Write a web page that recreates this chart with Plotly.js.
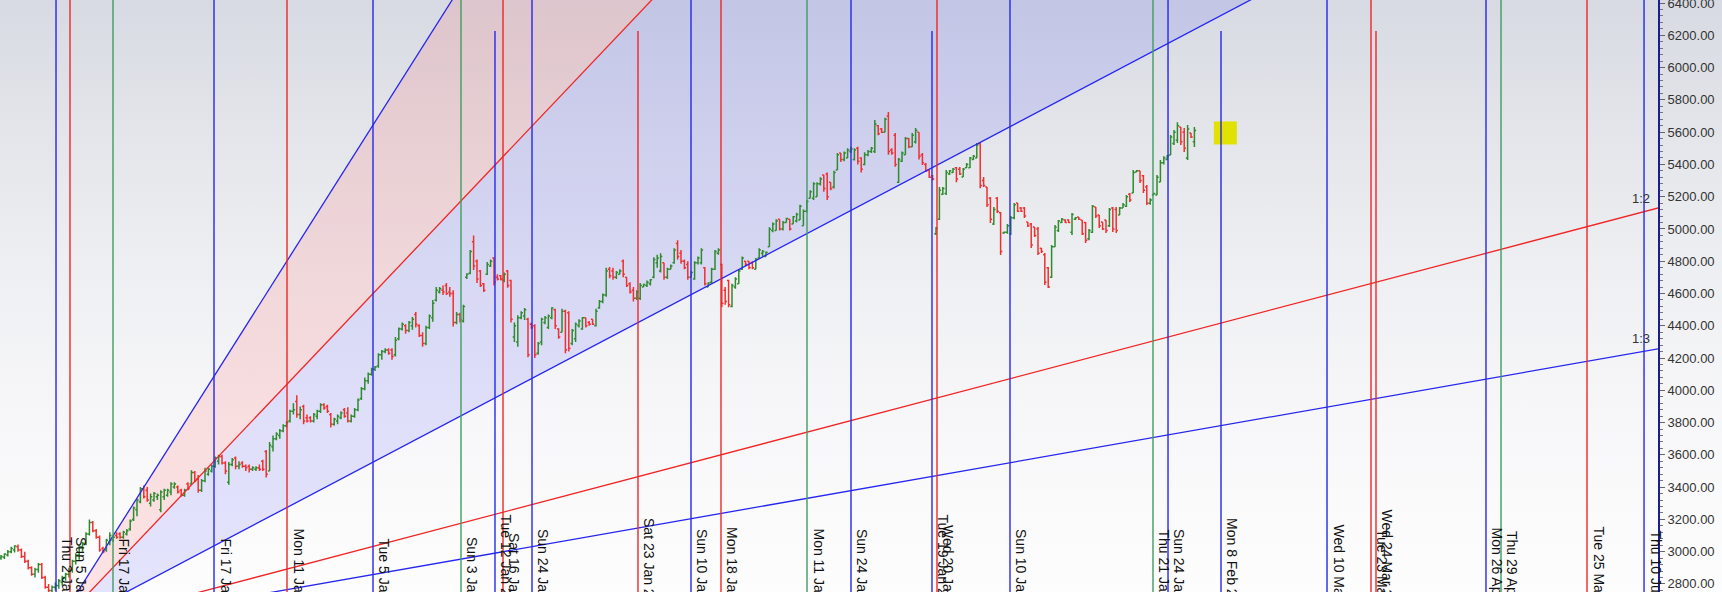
<!DOCTYPE html>
<html><head><meta charset="utf-8">
<script src="https://cdn.plot.ly/plotly-3.0.1.min.js"></script>
<style>
html,body{margin:0;padding:0;background:#fff;overflow:hidden;}
#chart{width:1722px;height:592px;background:linear-gradient(180deg,#d7dae2 0%,#e3e5ea 22%,#eeeff2 45%,#f7f7f9 70%,#fdfdfd 100%);}
</style></head><body><div id="chart"></div>
<script>
// OHLC price bars (one entry per bar, left to right)
const openPrice = [
2960,2965,2980,3000,3010,3030,3010,2970,2940,2900,
2860,2890,2920,2840,2780,2760,2780,2790,2810,2840,
2860,2890,2940,2980,3030,3050,3110,3180,3130,3090,
3020,3010,3060,3070,3100,3110,3090,3110,3140,3200,
3260,3310,3390,3380,3300,3320,3340,3260,3340,3350,
3370,3400,3400,3380,3350,3420,3420,3490,3450,3380,
3440,3480,3500,3530,3560,3590,3550,3430,3540,3580,
3530,3550,3530,3530,3510,3510,3520,3560,3620,3500,
3650,3700,3720,3750,3780,3810,3870,3930,3850,3900,
3830,3830,3810,3840,3870,3910,3900,3850,3790,3810,
3830,3880,3860,3810,3840,3880,3950,4010,4060,4100,
4130,4150,4220,4240,4250,4250,4220,4320,4380,4400,
4370,4400,4470,4400,4340,4290,4390,4450,4560,4610,
4620,4650,4610,4600,4420,4470,4430,4700,4725,4920,
4800,4740,4660,4720,4770,4820,4700,4710,4680,4740,
4680,4330,4300,4450,4460,4440,4410,4400,4230,4300,
4420,4390,4450,4500,4380,4360,4490,4480,4290,4320,
4400,4380,4450,4420,4440,4400,4510,4550,4590,4750,
4740,4700,4720,4800,4700,4660,4620,4570,4570,4640,
4650,4660,4700,4790,4740,4790,4700,4750,4790,4910,
4850,4800,4780,4700,4690,4790,4790,4760,4640,4670,
4750,4850,4780,4620,4680,4520,4640,4660,4750,4800,
4800,4790,4750,4820,4850,4830,4890,4990,4990,5060,
5000,5040,5060,5030,5050,5055,5020,5110,5190,5190,
5200,5280,5335,5340,5290,5260,5365,5470,5430,5440,
5480,5430,5500,5440,5400,5460,5480,5480,5640,5620,
5600,5700,5490,5580,5290,5420,5460,5560,5510,5540,
5600,5460,5400,5365,5330,4970,5060,5215,5220,5340,
5350,5380,5370,5322,5380,5380,5430,5440,5530,5300,
5260,5190,5030,5190,5100,4975,4980,4970,5070,5161,
5130,5130,5043,5030,5012,5000,4880,4840,4760,4700,
4890,4990,5040,5055,5055,4980,5060,5074,5055,5040,
4940,4980,5136,5086,5043,5055,5020,5130,5120,5086,
5130,5140,5215,5223,5353,5360,5330,5260,5160,5210,
5210,5291,5410,5430,5458,5530,5550,5632,5600,5440,
5594,5540];
const highPrice = [
2980,2990,3010,3030,3040,3045,3020,3000,2950,2910,
2900,2930,2930,2850,2800,2790,2810,2830,2850,2870,
2900,2950,2990,3040,3060,3120,3200,3190,3140,3100,
3030,3080,3120,3100,3120,3120,3130,3140,3200,3280,
3330,3400,3410,3400,3360,3370,3360,3380,3390,3390,
3430,3430,3410,3390,3390,3430,3505,3500,3475,3450,
3520,3520,3540,3590,3600,3600,3560,3555,3580,3590,
3560,3560,3540,3540,3530,3530,3540,3570,3630,3680,
3720,3740,3760,3790,3810,3880,3920,3970,3900,3910,
3850,3840,3860,3880,3920,3920,3910,3860,3830,3850,
3870,3890,3895,3850,3890,3950,4020,4080,4110,4140,
4150,4230,4250,4260,4260,4260,4330,4390,4420,4410,
4430,4455,4485,4410,4360,4400,4470,4560,4640,4640,
4650,4665,4640,4620,4485,4480,4530,4725,4870,4960,
4810,4745,4665,4795,4810,4825,4720,4715,4730,4745,
4685,4420,4465,4490,4510,4450,4420,4410,4300,4450,
4460,4470,4515,4505,4385,4505,4500,4490,4380,4420,
4440,4455,4450,4430,4440,4505,4560,4600,4760,4765,
4760,4740,4750,4810,4700,4670,4640,4620,4665,4660,
4680,4690,4825,4840,4850,4790,4760,4780,4880,4930,
4870,4810,4800,4740,4800,4830,4880,4765,4670,4760,
4870,4880,4785,4640,4685,4660,4700,4750,4830,4800,
4800,4800,4820,4880,4870,4860,5010,5040,5060,5060,
5050,5070,5060,5080,5100,5150,5120,5180,5240,5290,
5290,5320,5335,5350,5290,5360,5470,5470,5480,5500,
5510,5500,5510,5445,5475,5490,5508,5675,5645,5625,
5690,5725,5500,5595,5440,5480,5570,5563,5594,5625,
5600,5471,5409,5365,5335,5012,5260,5260,5365,5365,
5378,5384,5384,5378,5409,5446,5458,5532,5532,5322,
5260,5198,5136,5198,5105,4985,5030,5080,5161,5161,
5136,5136,5043,5037,5012,5012,4882,4851,4764,4900,
5024,5055,5068,5060,5060,5099,5074,5074,5055,5043,
5000,5148,5136,5086,5043,5055,5130,5136,5136,5136,
5161,5210,5223,5365,5365,5360,5334,5272,5190,5223,
5334,5427,5450,5458,5582,5613,5662,5632,5625,5644,
5594,5632];
const lowPrice = [
2950,2955,2970,2990,2995,3000,2960,2930,2890,2850,
2840,2870,2830,2770,2740,2740,2760,2770,2790,2820,
2840,2870,2920,2950,3000,3040,3100,3120,3080,3000,
2990,3000,3040,3060,3080,3080,3080,3100,3130,3190,
3220,3300,3330,3310,3280,3310,3320,3245,3320,3340,
3350,3390,3360,3340,3340,3380,3415,3430,3365,3370,
3430,3470,3490,3520,3540,3540,3480,3415,3530,3510,
3510,3520,3500,3490,3500,3500,3500,3500,3460,3500,
3620,3690,3700,3740,3770,3800,3850,3830,3820,3790,
3800,3800,3800,3820,3860,3880,3860,3770,3780,3790,
3820,3830,3800,3800,3830,3870,3940,4000,4040,4090,
4120,4140,4190,4230,4220,4190,4210,4310,4370,4350,
4360,4375,4390,4330,4270,4280,4380,4425,4550,4600,
4590,4590,4580,4395,4410,4420,4420,4690,4720,4745,
4665,4640,4610,4715,4765,4650,4680,4680,4670,4635,
4420,4300,4270,4440,4435,4205,4380,4200,4220,4280,
4410,4380,4440,4380,4320,4360,4230,4240,4280,4300,
4390,4375,4390,4400,4405,4395,4505,4540,4580,4695,
4685,4690,4720,4700,4640,4600,4550,4560,4560,4640,
4640,4650,4695,4760,4730,4685,4690,4750,4785,4810,
4785,4750,4685,4700,4685,4780,4780,4650,4640,4660,
4745,4840,4515,4530,4515,4515,4630,4660,4745,4770,
4750,4750,4750,4820,4830,4830,4890,4980,4990,4990,
4990,5040,4990,5030,5040,5055,5020,5100,5190,5180,
5200,5270,5230,5180,5240,5250,5365,5415,5420,5440,
5470,5425,5400,5350,5395,5450,5470,5470,5580,5594,
5600,5460,5460,5385,5285,5415,5460,5500,5508,5530,
5430,5396,5353,5316,5300,4962,5055,5210,5210,5334,
5347,5290,5334,5322,5378,5378,5427,5439,5253,5260,
5136,5037,5024,5099,4838,4970,4970,4962,5060,5105,
5105,5068,5012,4882,4950,4838,4851,4653,4634,4696,
4888,4981,5037,5037,5037,4962,5055,5055,4962,4913,
4930,4975,5068,5006,4993,4975,5012,4981,4975,5086,
5130,5136,5167,5223,5353,5285,5223,5148,5150,5210,
5210,5291,5400,5427,5458,5520,5532,5520,5477,5427,
5563,5508];
const closePrice = [
2970,2985,3000,3020,3035,3010,2970,2940,2900,2860,
2890,2920,2840,2780,2760,2780,2790,2820,2840,2860,
2890,2940,2980,3030,3050,3110,3180,3130,3090,3010,
3000,3070,3100,3090,3090,3090,3120,3130,3190,3270,
3320,3390,3340,3320,3340,3360,3350,3370,3380,3380,
3420,3420,3370,3350,3380,3390,3490,3440,3380,3440,
3500,3510,3530,3580,3590,3550,3500,3540,3570,3530,
3540,3530,3520,3510,3520,3520,3510,3510,3480,3660,
3700,3730,3750,3780,3800,3870,3880,3850,3880,3810,
3810,3810,3850,3870,3910,3890,3870,3790,3820,3840,
3860,3840,3810,3840,3880,3940,4010,4060,4100,4130,
4145,4220,4240,4250,4230,4210,4310,4380,4410,4370,
4420,4440,4410,4340,4290,4390,4460,4540,4620,4630,
4610,4600,4600,4420,4470,4440,4520,4720,4860,4770,
4690,4650,4620,4780,4800,4670,4690,4690,4720,4650,
4440,4400,4450,4480,4500,4220,4390,4220,4290,4440,
4450,4460,4510,4400,4330,4490,4250,4260,4370,4410,
4430,4450,4400,4410,4410,4490,4550,4590,4740,4710,
4700,4730,4740,4720,4650,4610,4570,4610,4650,4655,
4670,4685,4810,4820,4830,4700,4750,4770,4870,4830,
4800,4760,4700,4730,4790,4820,4870,4660,4665,4750,
4860,4870,4540,4550,4530,4650,4690,4740,4820,4780,
4760,4760,4810,4870,4860,4855,5000,5030,5050,5000,
5040,5065,5000,5075,5090,5140,5110,5170,5230,5280,
5280,5310,5250,5200,5250,5350,5460,5430,5470,5490,
5495,5490,5420,5370,5460,5480,5500,5650,5590,5600,
5680,5480,5470,5400,5430,5470,5560,5510,5580,5610,
5450,5410,5360,5320,5310,5005,5240,5250,5350,5360,
5370,5310,5340,5370,5400,5440,5450,5520,5270,5270,
5150,5060,5120,5110,4860,4980,5020,5070,5150,5110,
5110,5080,5020,4900,4960,4850,4860,4670,4640,4890,
5010,5050,5060,5040,5040,5090,5070,5060,4970,4930,
4990,5140,5080,5020,5000,4990,5120,5000,4990,5130,
5150,5200,5180,5350,5360,5300,5240,5160,5180,5220,
5320,5410,5440,5450,5570,5600,5640,5540,5500,5620,
5570,5610];

// Vertical time-cycle lines (position in bars), colour, style group, label
const vlineBar = [16.18,20.29,32.94,62.65,84.12,109.41,135.29,145.29,147.65,156.18,
  187.35,202.94,211.76,237.06,250.0,273.82,275.29,296.76,338.82,343.24,
  358.82,390.0,402.94,404.41,436.76,441.18,466.47,483.24];
const vlineColor = ['blue','red','green','blue','red','blue','green','blue','red','blue',
  'red','blue','red','green','blue','blue','red','blue','green','blue',
  'blue','blue','red','red','blue','green','red','blue'];
const vlineKind = ['A','A','A','A','A','A','A','B','A','A',
  'B','A','A','A','A','B','A','A','A','A',
  'B','A','A','B','A','A','A','A'];
const vlineLabel = ['Thu 2 Jan 2020','Sun 5 Jan 2020','Fri 17 Jan 2020','Fri 17 Jan 2020','Mon 11 Jan 2021',
  'Tue 5 Jan 2021','Sun 3 Jan 2021','Tue 12 Jan 2021','Sat 16 Jan 2021','Sun 24 Jan 2021',
  'Sat 23 Jan 2021','Sun 10 Jan 2021','Mon 18 Jan 2021','Mon 11 Jan 2021','Sun 24 Jan 2021',
  'Tue 19 Jan 2021','Wed 20 Jan 2021','Sun 10 Jan 2021','Thu 21 Jan 2021','Sun 24 Jan 2021',
  'Mon 8 Feb 2021','Wed 10 Mar 2021','Tue 23 Mar 2021','Wed 24 Mar 2021','Mon 26 Apr 2021',
  'Thu 29 Apr 2021','Tue 25 May 2021','Thu 10 Jun 2021'];

// Gann fan
const fanOriginBar = 15.3;
const fanOriginPrice = 2510;
const fanUnitPerBar = 11.1;
const fanRatio = [3, 2, 1, 1/2, 1/3];
const fanName = ['3:1','2:1','1:1','1:2','1:3'];
const fanColor = ['blue','red','blue','red','blue'];

// yellow marker
const markerBar = [360.1];
const markerPrice = [5595];

const colorMap = {blue:'#2626f0', red:'#f02626', green:'#3f9c62'};
const xRange = [-0.294, 487.35];
const yRange = [2750, 6419];
const fanEndBar = 500;
const fanPrice = (r, b) => fanOriginPrice + r * fanUnitPerBar * (b - fanOriginBar);
const barX = closePrice.map((_, i) => i);

const traces = [];
traces.push({
  type:'ohlc', x:barX, open:openPrice, high:highPrice, low:lowPrice, close:closePrice,
  increasing:{line:{color:'#2e8b2e', width:1.5}},
  decreasing:{line:{color:'#f03030', width:1.5}},
  tickwidth:0.5, hoverinfo:'skip', showlegend:false
});
fanRatio.forEach((r, k) => traces.push({
  type:'scatter', mode:'lines', x:[fanOriginBar, fanEndBar], y:[fanOriginPrice, fanPrice(r, fanEndBar)],
  line:{color:colorMap[fanColor[k]], width:1.3}, hoverinfo:'skip', showlegend:false
}));
traces.push({
  type:'scatter', mode:'markers', x:markerBar, y:markerPrice,
  marker:{symbol:'square', size:23, color:'#e2e200', line:{width:0}},
  hoverinfo:'skip', showlegend:false
});

const shapes = [];
const fills = [[0, 1, 'rgba(255,70,70,0.14)'], [1, 2, 'rgba(60,60,255,0.13)']];
fills.forEach(([a, b, c]) => shapes.push({
  type:'path', xref:'x', yref:'y', layer:'below', line:{width:0}, fillcolor:c,
  path:`M ${fanOriginBar},${fanOriginPrice} L ${fanEndBar},${fanPrice(fanRatio[a], fanEndBar)} L ${fanEndBar},${fanPrice(fanRatio[b], fanEndBar)} Z`
}));
vlineBar.forEach((xb, k) => shapes.push({
  type:'line', xref:'x', yref:'paper', x0:xb, x1:xb, y0:0, y1: vlineKind[k] === 'A' ? 1 : 0.9476,
  line:{color:colorMap[vlineColor[k]], width:1.4}, layer:'above'
}));

const annotations = [];
const labelFont = {family:'"Liberation Sans", Arial, sans-serif', size:14, color:'#111'};
vlineBar.forEach((xb, k) => annotations.push({
  x:xb, xref:'x', y: vlineKind[k] === 'A' ? -0.076 : -0.0507, yref:'paper',
  text:vlineLabel[k], textangle:90, showarrow:false, xanchor:'left', yanchor:'bottom',
  xshift:1, font:labelFont
}));
const fanLabelBar = 485.6;
fanRatio.forEach((r, k) => {
  const p = fanPrice(r, fanLabelBar);
  if (p > yRange[0] && p < yRange[1]) {
    annotations.push({x:fanLabelBar, xref:'x', y:p, yref:'y', text:fanName[k], showarrow:false,
      xanchor:'right', yanchor:'bottom', yshift:2, font:{family:'"Liberation Sans", Arial, sans-serif', size:13, color:'#333'}});
  }
});

const layout = {
  width:1722, height:592,
  margin:{l:0, r:64, t:0, b:0, pad:0},
  paper_bgcolor:'rgba(0,0,0,0)', plot_bgcolor:'rgba(0,0,0,0)',
  showlegend:false, hovermode:false,
  xaxis:{range:xRange, visible:false, rangeslider:{visible:false}, fixedrange:true},
  yaxis:{
    range:yRange, side:'right', dtick:200, tick0:2800, tickformat:'.2f',
    ticks:'outside', ticklen:5, tickwidth:1, tickcolor:'#666',
    showline:true, linecolor:'#1c1c96', linewidth:2,
    showgrid:false, zeroline:false, fixedrange:true, ticklabeloverflow:'allow',
    tickfont:{family:'"Liberation Sans", Arial, sans-serif', size:13, color:'#333'},
    minor:{dtick:40, ticks:'outside', ticklen:3, tickcolor:'#777', showgrid:false}
  },
  shapes:shapes, annotations:annotations
};
Plotly.newPlot('chart', traces, layout, {staticPlot:true, displayModeBar:false});
</script>
</body></html>
